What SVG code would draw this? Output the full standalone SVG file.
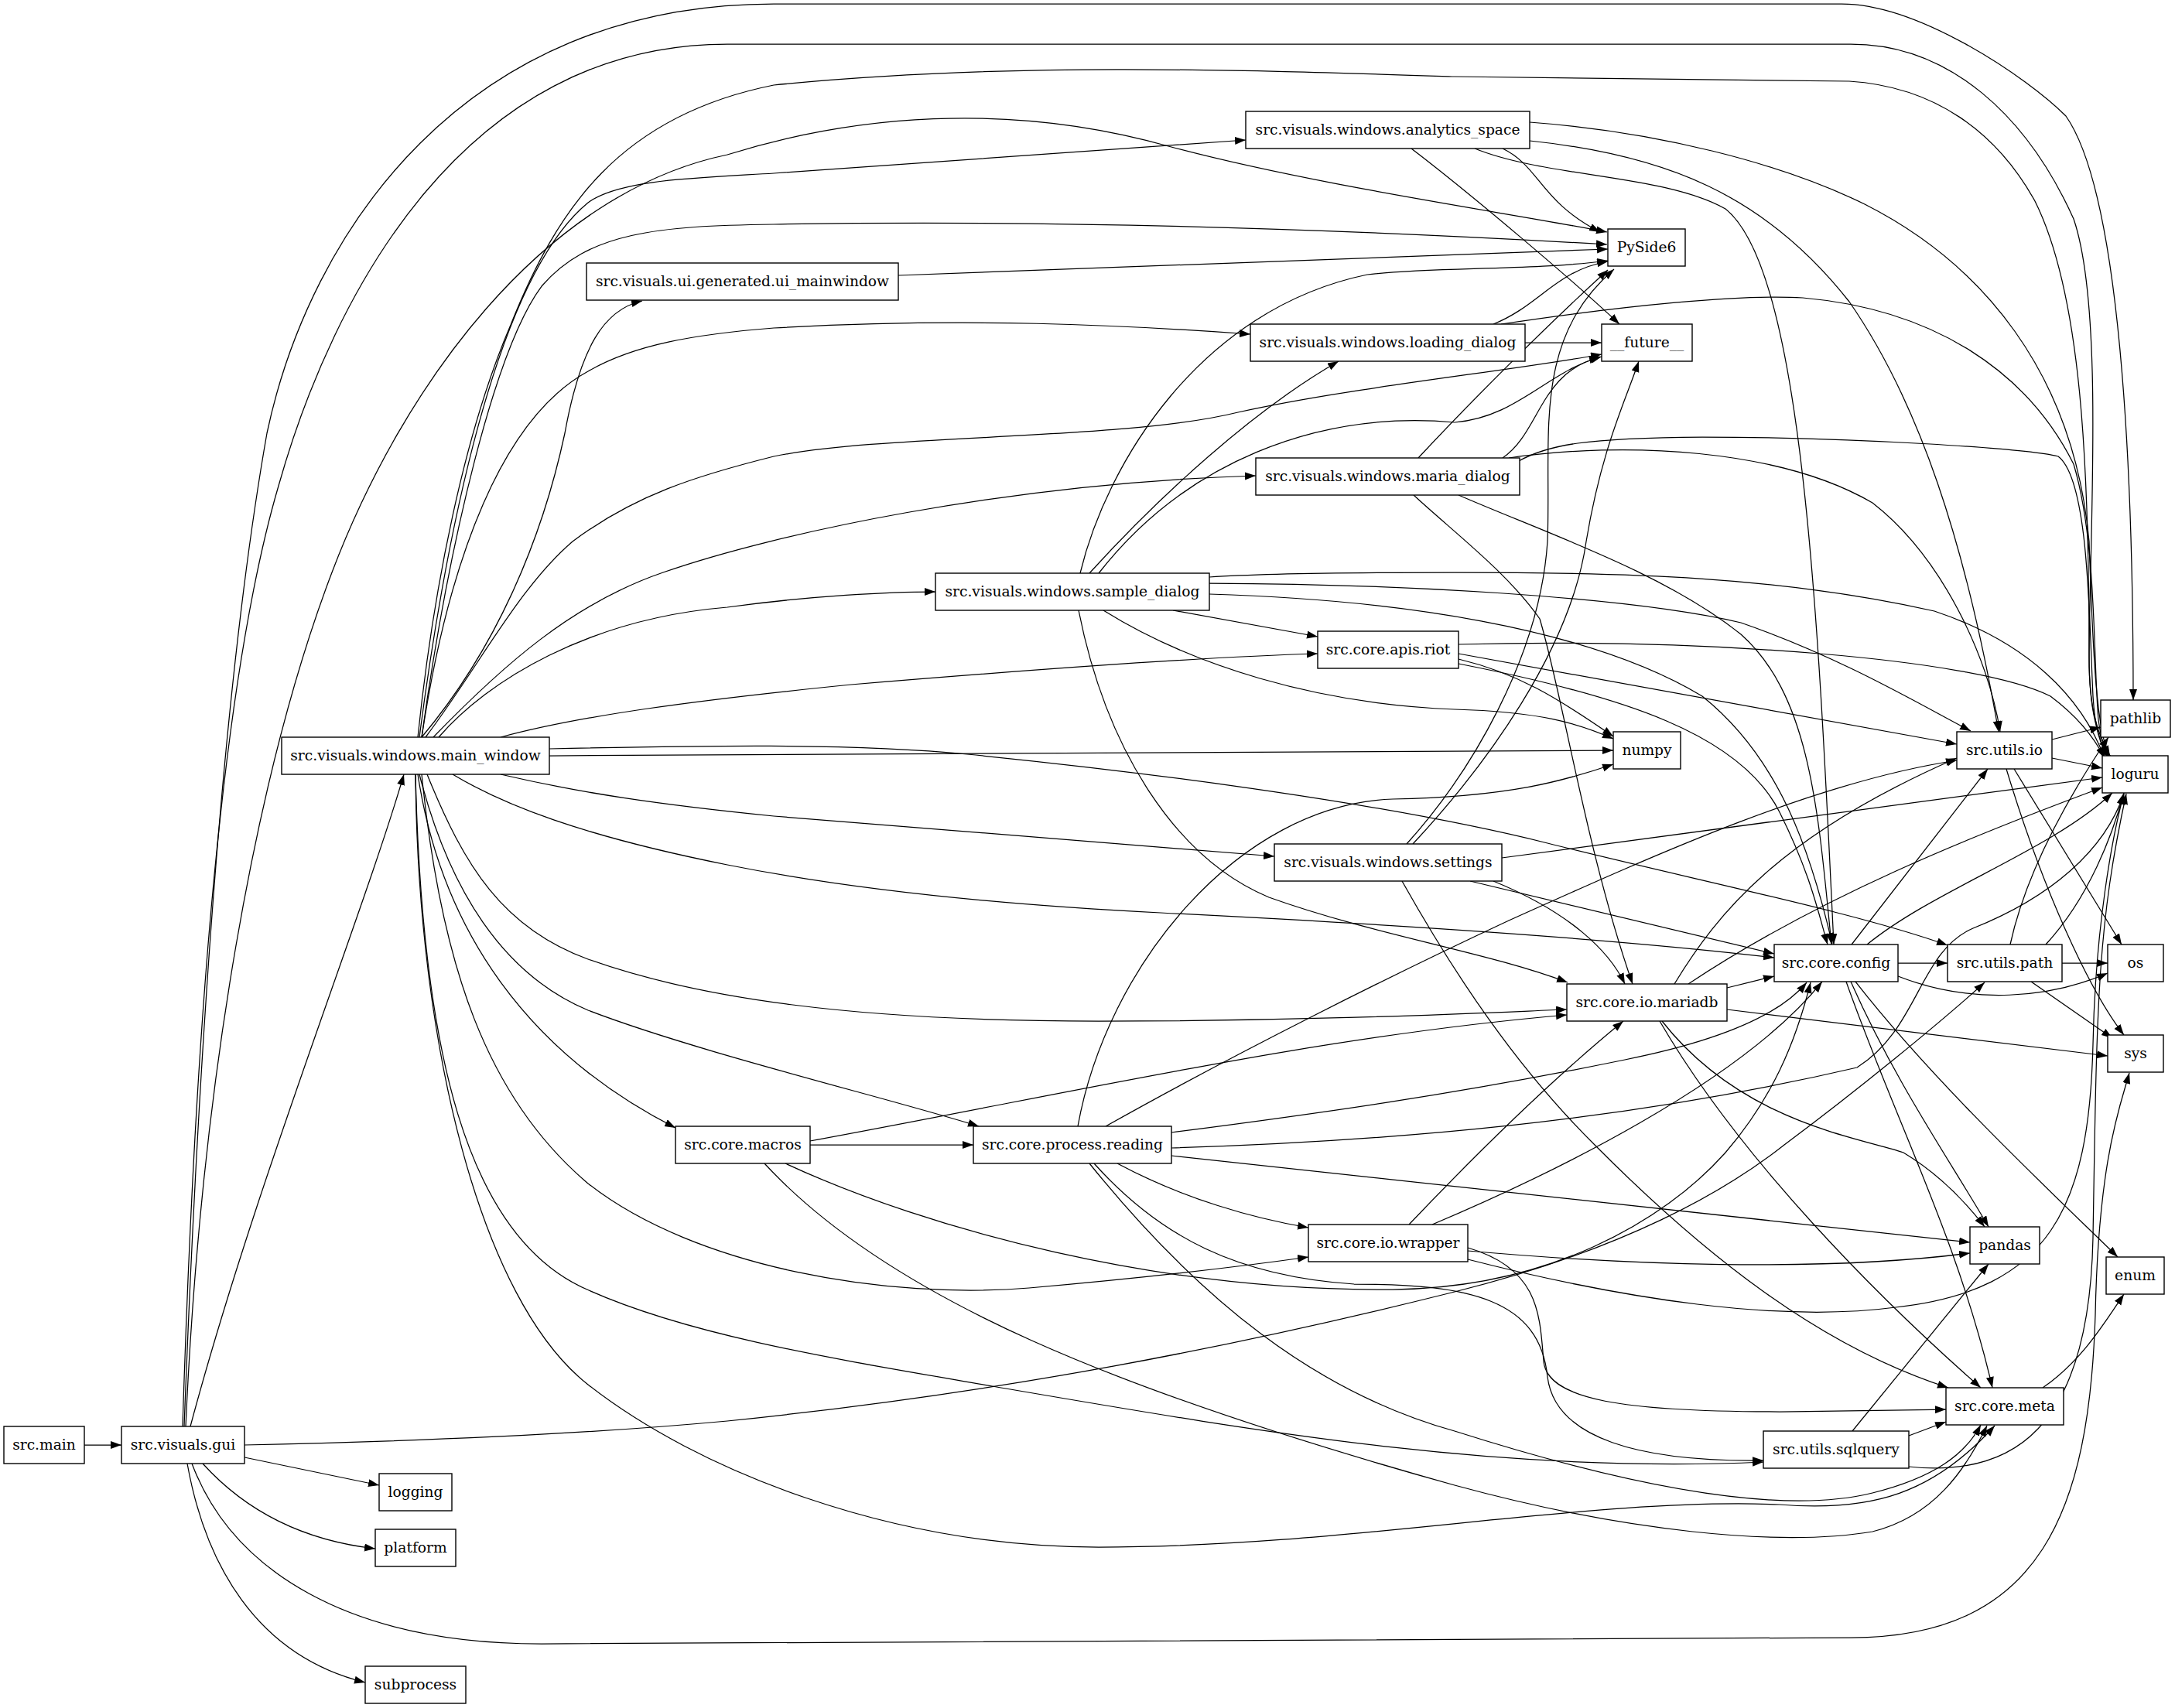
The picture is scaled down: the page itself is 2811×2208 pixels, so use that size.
<svg xmlns="http://www.w3.org/2000/svg" width="2811" height="2208" viewBox="0 0 2811 2208">
<style>
.n rect{fill:#fff;stroke:#000;stroke-width:1.4}
.n text{font-family:"DejaVu Serif","Liberation Serif",serif;font-size:18.67px;text-anchor:middle;fill:#000}
.e path{fill:none;stroke:#000;stroke-width:1.25;marker-end:url(#a)}
</style>
<defs>
<marker id="a" markerUnits="userSpaceOnUse" markerWidth="15" markerHeight="11" refX="14" refY="5" orient="auto"><path d="M0,0 L14,5 L0,10 z" fill="#000"/></marker>
</defs>
<rect width="2811" height="2208" fill="#fff"/>
<g id="edges" class="e">
<path d="M109,1868 L157,1868"/>
<path d="M246,1844 C 330,1530 470,1180 522,1001"/>
<path d="M238,1844 C 255,1400 285,900 345,560 C 400,300 600,5 1000,5 L 2380,5 C 2480,5 2620,100 2670,150 C 2740,250 2757,600 2757,905"/>
<path d="M236,1844 C 250,1400 280,900 360,628 C 430,380 600,57 940,57 L 2392,57 C 2520,57 2620,150 2680,283 C 2720,400 2700,700 2700,850 C 2700,920 2712,950 2727,978"/>
<path d="M240,1844 C 260,1400 330,1000 429,740 C 520,500 700,250 940,200 C 1100,150 1300,130 1510,189 C 1700,240 1950,275 2077,300"/>
<path d="M248,1892 C 300,2030 450,2125 700,2125 L 2392,2117 C 2640,2117 2700,1950 2708,1700 C 2712,1500 2740,1430 2752,1387"/>
<path d="M316,1868 C 600,1862 800,1850 940,1837 C 1300,1800 1600,1740 1880,1670 C 2100,1615 2230,1540 2306,1480 C 2400,1410 2510,1320 2565,1270"/>
<path d="M316,1884 L490,1920"/>
<path d="M262,1892 C 310,1945 380,1990 485,2002"/>
<path d="M242,1892 C 265,2020 330,2140 472,2175"/>
<path d="M540,953 C 560,760 600,560 660,420 C 720,270 800,150 1000,110 C 1300,80 1600,90 1880,99 L 2390,105 C 2500,112 2580,170 2630,260 C 2690,380 2700,600 2700,850 C 2700,920 2712,955 2725,980"/>
<path d="M542,953 C 575,700 640,360 760,262 C 800,232 900,230 1000,224 L 1610,181"/>
<path d="M545,953 C 580,700 640,450 700,370 C 760,300 850,292 1000,290 C 1400,283 1800,300 2077,316"/>
<path d="M545,953 C 640,840 700,700 730,560 C 750,450 780,400 830,389"/>
<path d="M545,953 C 580,720 650,540 760,480 C 820,445 900,432 1000,424 C 1250,410 1450,420 1616,432"/>
<path d="M550,953 C 620,860 670,760 740,700 C 820,640 900,615 1000,590 C 1150,560 1450,570 1600,533 C 1750,500 1950,480 2070,458"/>
<path d="M560,953 C 650,860 740,780 857,740 C 1000,690 1300,625 1623,615"/>
<path d="M567,953 C 630,880 760,800 940,785 C 1050,770 1150,765 1209,765"/>
<path d="M647,953 C 750,925 900,905 1100,885 C 1400,860 1600,848 1703,845"/>
<path d="M710,968 C 900,964 1100,960 1250,975 C 1500,1000 1800,1040 2000,1090 C 2200,1140 2400,1180 2517,1222"/>
<path d="M710,977 L2085,970"/>
<path d="M647,1001 C 750,1025 850,1040 1000,1055 C 1300,1080 1500,1097 1647,1107"/>
<path d="M585,1001 C 650,1040 750,1080 940,1118 C 1100,1150 1300,1170 1500,1180 C 1800,1195 2100,1215 2293,1238"/>
<path d="M552,1001 C 600,1120 650,1200 760,1240 C 900,1290 1100,1320 1420,1320 C 1700,1320 1900,1310 2025,1305"/>
<path d="M542,1001 C 580,1150 650,1260 760,1306 C 900,1360 1150,1420 1265,1456"/>
<path d="M540,1001 C 570,1200 680,1360 873,1458"/>
<path d="M537,1001 C 545,1350 600,1600 761,1668 C 900,1730 1100,1760 1300,1795 C 1650,1855 1950,1905 2279,1890"/>
<path d="M537,1001 C 540,1350 620,1680 760,1790 C 900,1900 1150,2000 1420,2000 C 1750,2000 2050,1935 2300,1945 C 2420,1955 2500,1930 2578,1843"/>
<path d="M545,1001 C 570,1250 630,1420 760,1530 C 900,1640 1150,1680 1330,1665 C 1500,1650 1620,1635 1691,1625"/>
<path d="M1161,356 L2078,322"/>
<path d="M1930,419 C 1990,395 2010,350 2078,338"/>
<path d="M1971,443 L2070,443"/>
<path d="M1940,419 C 2100,395 2250,380 2330,385 C 2500,400 2620,480 2680,600 C 2710,700 2705,850 2712,930 C 2715,955 2720,970 2728,978"/>
<path d="M1942,192 C 1990,215 1990,260 2068,300"/>
<path d="M1824,192 C 1900,250 2030,360 2093,419"/>
<path d="M1977,158 C 2140,170 2300,210 2410,264 C 2560,340 2680,480 2700,700 C 2705,850 2710,950 2727,978"/>
<path d="M1977,182 C 2150,200 2280,250 2390,390 C 2480,520 2540,700 2583,946"/>
<path d="M1906,192 C 2000,230 2150,225 2230,270 C 2330,350 2350,800 2370,1221"/>
<path d="M1833,592 C 1900,520 2000,420 2078,349"/>
<path d="M1942,592 C 1990,560 1990,480 2068,462"/>
<path d="M1963,596 C 2000,575 2050,566 2200,565 C 2400,565 2620,580 2660,590 C 2700,620 2700,800 2705,900 C 2708,950 2718,970 2726,978"/>
<path d="M1950,592 C 2100,570 2300,580 2420,650 C 2510,720 2570,850 2585,946"/>
<path d="M1885,640 C 2000,690 2150,740 2250,820 C 2340,900 2350,1050 2367,1221"/>
<path d="M1827,640 C 1880,689 1948,740 1990,800 C 2020,900 2050,1100 2110,1272"/>
<path d="M1408,741 C 1500,640 1620,530 1730,467"/>
<path d="M1396,741 C 1430,600 1550,400 1767,355 C 1850,345 1980,350 2078,337"/>
<path d="M1420,741 C 1530,600 1700,530 1880,546 C 1960,540 2000,480 2070,461"/>
<path d="M1516,789 L1703,823"/>
<path d="M1426,789 C 1540,860 1700,910 1880,917 C 1990,920 2040,935 2085,955"/>
<path d="M1394,789 C 1430,970 1520,1110 1640,1160 C 1780,1210 1920,1230 2026,1270"/>
<path d="M1563,746 C 1620,742 1700,740 1880,740 C 2100,740 2300,745 2500,790 C 2620,830 2690,900 2720,980"/>
<path d="M1563,754 C 1800,755 2100,770 2250,805 C 2380,850 2480,910 2547,945"/>
<path d="M1563,768 C 1800,775 2050,810 2200,900 C 2300,980 2340,1100 2368,1220"/>
<path d="M1885,833 C 2200,825 2550,850 2650,900 C 2690,930 2710,960 2720,980"/>
<path d="M1885,845 L2529,962"/>
<path d="M1885,852 C 1960,870 2010,900 2085,952"/>
<path d="M1885,858 C 2100,900 2250,950 2300,1050 C 2340,1130 2350,1180 2362,1221"/>
<path d="M1818,1091 C 1900,1000 1990,850 2000,700 C 2005,560 1980,440 2086,348"/>
<path d="M1826,1091 C 1920,990 2030,840 2050,700 C 2070,580 2100,520 2118,467"/>
<path d="M1941,1109 L2717,1005"/>
<path d="M1900,1139 L2293,1233"/>
<path d="M1930,1139 C 2030,1180 2080,1230 2100,1272"/>
<path d="M1812,1139 C 1880,1260 1960,1380 2061,1480 C 2200,1620 2350,1740 2518,1794"/>
<path d="M2232,1277 L2293,1262"/>
<path d="M2164,1272 C 2220,1180 2300,1080 2529,980"/>
<path d="M2182,1272 C 2350,1160 2550,1080 2717,1018"/>
<path d="M2232,1305 L2724,1365"/>
<path d="M2148,1320 C 2250,1450 2400,1470 2460,1490 C 2510,1520 2545,1560 2565,1586"/>
<path d="M2145,1320 C 2250,1500 2430,1680 2560,1794"/>
<path d="M2453,1245 L2517,1245"/>
<path d="M2393,1221 L2569,994"/>
<path d="M2413,1221 C 2500,1150 2650,1100 2730,1025"/>
<path d="M2453,1262 C 2550,1300 2650,1290 2724,1258"/>
<path d="M2392,1269 C 2450,1400 2520,1500 2570,1586"/>
<path d="M2386,1269 C 2450,1450 2530,1600 2575,1794"/>
<path d="M2398,1269 C 2500,1400 2650,1540 2737,1625"/>
<path d="M2665,1245 L2724,1245"/>
<path d="M2625,1269 L2730,1342"/>
<path d="M2598,1221 C 2620,1120 2680,1020 2725,953"/>
<path d="M2644,1221 C 2700,1160 2730,1080 2745,1025"/>
<path d="M2652,956 L2715,940"/>
<path d="M2652,980 L2717,993"/>
<path d="M2603,994 L2742,1221"/>
<path d="M2593,994 C 2640,1150 2700,1280 2745,1338"/>
<path d="M2467,1856 L2515,1838"/>
<path d="M2394,1850 L2570,1634"/>
<path d="M2467,1896 C 2600,1910 2700,1850 2705,1600 C 2710,1300 2710,1200 2748,1026"/>
<path d="M2640,1794 C 2690,1760 2720,1710 2745,1673"/>
<path d="M1821,1583 C 1900,1500 2000,1400 2098,1320"/>
<path d="M1851,1583 C 2000,1520 2250,1400 2355,1269"/>
<path d="M1897,1617 C 2100,1635 2350,1645 2546,1620"/>
<path d="M1897,1628 C 2100,1680 2300,1710 2450,1690 C 2650,1668 2700,1560 2705,1350 C 2708,1200 2730,1080 2745,1026"/>
<path d="M1897,1613 C 1990,1640 1990,1700 1995,1760 C 2000,1810 2100,1825 2300,1825 L 2515,1822"/>
<path d="M1393,1456 C 1430,1250 1600,1040 1800,1033 C 1950,1030 2020,1010 2085,988"/>
<path d="M1429,1456 C 1600,1360 1800,1260 1950,1190 C 2150,1100 2350,1010 2529,983"/>
<path d="M1514,1464 C 1700,1440 1880,1415 2100,1370 C 2250,1340 2310,1300 2335,1270"/>
<path d="M1514,1484 C 1800,1475 2100,1450 2400,1380 C 2480,1330 2480,1230 2550,1200 C 2650,1160 2720,1100 2745,1026"/>
<path d="M1514,1494 L2546,1606"/>
<path d="M1444,1504 C 1530,1550 1620,1575 1691,1587"/>
<path d="M1408,1504 C 1550,1680 1700,1800 1880,1850 C 2100,1920 2300,1960 2420,1930 C 2500,1910 2540,1880 2560,1842"/>
<path d="M1414,1504 C 1500,1600 1600,1650 1750,1660 C 1900,1660 1990,1680 2000,1780 C 2010,1860 2120,1890 2279,1888"/>
<path d="M1047,1480 L1258,1480"/>
<path d="M1047,1475 C 1400,1410 1700,1340 2025,1312"/>
<path d="M1015,1504 C 1200,1590 1500,1670 1800,1667 C 2000,1665 2150,1580 2230,1490 C 2290,1420 2320,1350 2340,1270"/>
<path d="M988,1504 C 1150,1680 1450,1800 1880,1920 C 2100,1980 2300,2000 2420,1980 C 2500,1960 2540,1900 2568,1843"/>
</g>
<g id="src_main" class="n"><rect x="5" y="1844" width="104" height="48"/><text x="57" y="1874">src.main</text></g>
<g id="src_visuals_gui" class="n"><rect x="157" y="1844" width="159" height="48"/><text x="236.5" y="1874">src.visuals.gui</text></g>
<g id="main_window" class="n"><rect x="364" y="953" width="346" height="48"/><text x="537" y="983">src.visuals.windows.main_window</text></g>
<g id="analytics_space" class="n"><rect x="1610" y="144" width="367" height="48"/><text x="1793.5" y="174">src.visuals.windows.analytics_space</text></g>
<g id="ui_mainwindow" class="n"><rect x="758" y="340" width="403" height="48"/><text x="959.5" y="370">src.visuals.ui.generated.ui_mainwindow</text></g>
<g id="loading_dialog" class="n"><rect x="1616" y="419" width="355" height="48"/><text x="1793.5" y="449">src.visuals.windows.loading_dialog</text></g>
<g id="maria_dialog" class="n"><rect x="1623" y="592" width="341" height="48"/><text x="1793.5" y="622">src.visuals.windows.maria_dialog</text></g>
<g id="sample_dialog" class="n"><rect x="1209" y="741" width="354" height="48"/><text x="1386" y="771">src.visuals.windows.sample_dialog</text></g>
<g id="apis_riot" class="n"><rect x="1703" y="816" width="182" height="48"/><text x="1794" y="846">src.core.apis.riot</text></g>
<g id="settings" class="n"><rect x="1647" y="1091" width="294" height="48"/><text x="1794" y="1121">src.visuals.windows.settings</text></g>
<g id="macros" class="n"><rect x="873" y="1456" width="174" height="48"/><text x="960" y="1486">src.core.macros</text></g>
<g id="process_reading" class="n"><rect x="1258" y="1456" width="256" height="48"/><text x="1386" y="1486">src.core.process.reading</text></g>
<g id="io_wrapper" class="n"><rect x="1691" y="1583" width="206" height="48"/><text x="1794" y="1613">src.core.io.wrapper</text></g>
<g id="io_mariadb" class="n"><rect x="2025" y="1272" width="207" height="48"/><text x="2128.5" y="1302">src.core.io.mariadb</text></g>
<g id="core_config" class="n"><rect x="2293" y="1221" width="160" height="48"/><text x="2373" y="1251">src.core.config</text></g>
<g id="utils_path" class="n"><rect x="2517" y="1221" width="148" height="48"/><text x="2591" y="1251">src.utils.path</text></g>
<g id="utils_io" class="n"><rect x="2529" y="946" width="123" height="48"/><text x="2590.5" y="976">src.utils.io</text></g>
<g id="utils_sqlquery" class="n"><rect x="2279" y="1850" width="188" height="48"/><text x="2373" y="1880">src.utils.sqlquery</text></g>
<g id="core_meta" class="n"><rect x="2515" y="1794" width="152" height="48"/><text x="2591" y="1824">src.core.meta</text></g>
<g id="PySide6" class="n"><rect x="2078" y="296" width="100" height="48"/><text x="2128" y="326">PySide6</text></g>
<g id="future" class="n"><rect x="2070" y="419" width="117" height="48"/><text x="2128.5" y="449">__future__</text></g>
<g id="numpy" class="n"><rect x="2085" y="946" width="87" height="48"/><text x="2128.5" y="976">numpy</text></g>
<g id="pandas" class="n"><rect x="2546" y="1586" width="90" height="48"/><text x="2591" y="1616">pandas</text></g>
<g id="pathlib" class="n"><rect x="2715" y="905" width="90" height="48"/><text x="2760" y="935">pathlib</text></g>
<g id="loguru" class="n"><rect x="2717" y="977" width="85" height="48"/><text x="2759.5" y="1007">loguru</text></g>
<g id="os" class="n"><rect x="2724" y="1221" width="72" height="48"/><text x="2760" y="1251">os</text></g>
<g id="sys" class="n"><rect x="2724" y="1338" width="72" height="48"/><text x="2760" y="1368">sys</text></g>
<g id="enum" class="n"><rect x="2722" y="1625" width="75" height="48"/><text x="2759.5" y="1655">enum</text></g>
<g id="logging" class="n"><rect x="490" y="1905" width="94" height="48"/><text x="537" y="1935">logging</text></g>
<g id="platform" class="n"><rect x="485" y="1977" width="104" height="48"/><text x="537" y="2007">platform</text></g>
<g id="subprocess" class="n"><rect x="472" y="2154" width="130" height="48"/><text x="537" y="2184">subprocess</text></g>
</svg>
